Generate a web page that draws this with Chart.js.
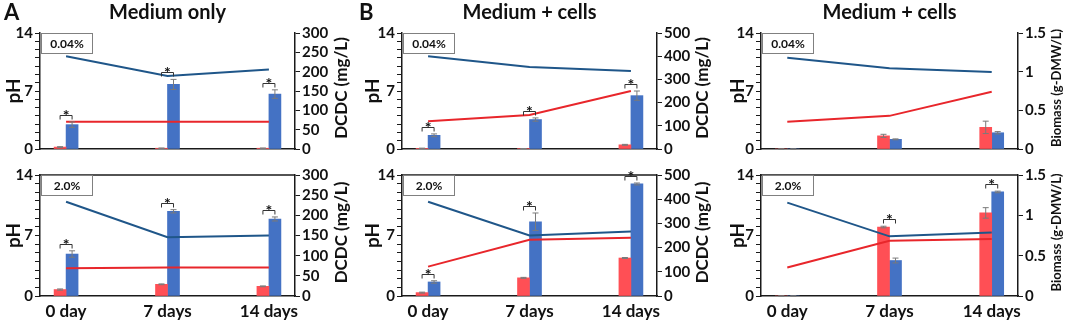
<!DOCTYPE html>
<html>
<head>
<meta charset="utf-8">
<script src="https://cdn.jsdelivr.net/npm/chart.js@4/dist/chart.umd.min.js"></script>
<style>
    body { margin: 0; background: #fff; }
    #figure { position: relative; width: 1065px; height: 322px; overflow: hidden; }
    .panel { position: absolute; }
</style>
</head>
<body>
<div id="figure">
    <div class="panel" id="wrap-a1"><canvas id="chart-a1"></canvas></div>
    <div class="panel" id="wrap-a2"><canvas id="chart-a2"></canvas></div>
    <div class="panel" id="wrap-b1"><canvas id="chart-b1"></canvas></div>
    <div class="panel" id="wrap-b2"><canvas id="chart-b2"></canvas></div>
    <div class="panel" id="wrap-c1"><canvas id="chart-c1"></canvas></div>
    <div class="panel" id="wrap-c2"><canvas id="chart-c2"></canvas></div>
</div>
<script>
// Data ===============================================
const days = [0, 7, 14];
const dayLabels = ['0 day', '7 days', '14 days'];
const phLabels = [0, 7, 14];

// A, medium only, 0.04%  (lines = pH, bars = DCDC mg/L)
const phBlueA1 = [11.2, 8.8, 9.6];
const phRedA1 = [3.3, 3.3, 3.3];
const redBarA1 = [5, 2, 2];
const redErrA1 = [1, 0.5, 0.5];
const blueBarA1 = [63, 167, 142];
const blueErrA1 = [7, 13, 11];
const sigA1 = [true, true, true];

// A, medium only, 2.0%
const phBlueA2 = [10.9, 6.8, 7.0];
const phRedA2 = [3.2, 3.3, 3.3];
const redBarA2 = [16, 29, 24];
const redErrA2 = [1.5, 1, 1];
const blueBarA2 = [104, 210, 191];
const blueErrA2 = [8, 4, 5];
const sigA2 = [true, true, true];

// B, medium + cells, 0.04%
const phBlueB1 = [11.2, 9.9, 9.4];
const phRedB1 = [3.35, 4.1, 7.0];
const redBarB1 = [3, 2, 18];
const redErrB1 = [0, 0, 2];
const blueBarB1 = [59, 127, 230];
const blueErrB1 = [6, 7, 20];
const sigB1 = [true, true, true];

// B, medium + cells, 2.0%
const phBlueB2 = [10.9, 7.0, 7.45];
const phRedB2 = [3.4, 6.5, 6.75];
const redBarB2 = [14, 75, 157];
const redErrB2 = [2, 2, 2];
const blueBarB2 = [58, 307, 463];
const blueErrB2 = [5, 36, 4];
const sigB2 = [true, true, true];

// C, medium + cells, 0.04%  (bars = biomass g-DMW/L)
const phBlueC1 = [11.0, 9.75, 9.3];
const phRedC1 = [3.3, 4.0, 6.9];
const redBarC1 = [0, 0.17, 0.28];
const redErrC1 = [0, 0.02, 0.08];
const blueBarC1 = [0, 0.125, 0.21];
const blueErrC1 = [0, 0.006, 0.015];
const sigC1 = [false, false, false];

// C, medium + cells, 2.0%
const phBlueC2 = [10.8, 6.9, 7.35];
const phRedC2 = [3.3, 6.4, 6.6];
const redBarC2 = [0, 0.855, 1.03];
const redErrC2 = [0, 0.01, 0.065];
const blueBarC2 = [0, 0.44, 1.29];
const blueErrC2 = [0, 0.03, 0.01];
const sigC2 = [false, true, true];

// Styles =============================================
const BLUE_LINE = '#1f5689';
const RED_LINE = '#e8262b';
const BLUE_BAR = '#4472c4';
const RED_BAR = '#ff4f55';
const AXIS = '#1a1a1a';
const TEXT = '#111';
const ERR = '#7a7a7a';
const FONT = 'Lato, "Open Sans", sans-serif';

Chart.defaults.font.family = FONT;
Chart.defaults.color = TEXT;

const row1 = { top: 0, height: 160, padTop: 33, xHeight: 8, showDays: false, frameTop: false, tag: '0.04%' };
const row2 = { top: 160, height: 162, padTop: 15, xHeight: 26, showDays: true, frameTop: true, tag: '2.0%' };
const colA = { left: 0, width: 355, leftWidth: 40, rightWidth: 60, letter: 'A', letterX: 4, title: 'Medium only',
    rightMax: 300, rightStep: 50, rightTitle: 'DCDC (mg/L)', rightFont: 17, rightTitleX: 47 };
const colB = { left: 359, width: 358, leftWidth: 43, rightWidth: 60, letter: 'B', letterX: 0, title: 'Medium + cells',
    rightMax: 500, rightStep: 100, rightTitle: 'DCDC (mg/L)', rightFont: 17, rightTitleX: 46 };
const colC = { left: 724, width: 341, leftWidth: 37, rightWidth: 47, letter: '', letterX: 0, title: 'Medium + cells',
    rightMax: 1.5, rightStep: 0.5, rightTitle: 'Biomass (g-DMW/L)', rightFont: 13, rightTitleX: 39 };

function points(values) {
    return values.map((v, i) => ({ x: days[i], y: v }));
}

class Panel {
    constructor(id, row, col, series) {
        this.cfg = Object.assign({ id: id }, row, col, series);
        if (row !== row1) {
            this.cfg.letter = '';
            this.cfg.title = '';
        }
        const wrap = document.getElementById('wrap-' + id);
        wrap.style.left = this.cfg.left + 'px';
        wrap.style.top = this.cfg.top + 'px';
        wrap.style.width = this.cfg.width + 'px';
        wrap.style.height = this.cfg.height + 'px';
        this.chart = this.createChart();
    }

    createChart() {
        const c = this.cfg;
        const ctx = document.getElementById('chart-' + c.id);
        const tickFont = { size: 15, weight: 'bold' };
        return new Chart(ctx, {
            type: 'bar',
            data: {
                datasets: [
                    { type: 'line', data: points(c.phBlue), yAxisID: 'y', borderColor: BLUE_LINE,
                      borderWidth: 2, pointRadius: 0, tension: 0, order: 0 },
                    { type: 'line', data: points(c.phRed), yAxisID: 'y', borderColor: RED_LINE,
                      borderWidth: 2, pointRadius: 0, tension: 0, order: 0 },
                    { data: points(c.redBar), yAxisID: 'y2', backgroundColor: RED_BAR, barThickness: 12, order: 1 },
                    { data: points(c.blueBar), yAxisID: 'y2', backgroundColor: BLUE_BAR, barThickness: 12, order: 1 },
                ]
            },
            options: {
                responsive: true,
                maintainAspectRatio: false,
                animation: false,
                layout: { padding: { top: c.padTop, left: 0, right: 0, bottom: 0 } },
                plugins: {
                    legend: { display: false },
                    tooltip: { enabled: false },
                },
                scales: {
                    x: {
                        type: 'linear',
                        min: -1.8,
                        max: 15.8,
                        offset: false,
                        afterBuildTicks: s => { s.ticks = days.map(v => ({ value: v })); },
                        afterFit: s => { s.height = c.xHeight; },
                        grid: { display: false, drawTicks: false },
                        border: { color: AXIS, width: 1.5 },
                        ticks: {
                            display: c.showDays,
                            autoSkip: false,
                            maxRotation: 0,
                            padding: 5,
                            font: { size: 17, weight: 'bold' },
                            callback: v => dayLabels[days.indexOf(v)],
                        },
                    },
                    y: {
                        position: 'left',
                        min: 0,
                        max: 14,
                        afterFit: s => { s.width = c.leftWidth; },
                        grid: { drawOnChartArea: false, tickLength: 5, color: AXIS },
                        border: { color: AXIS, width: 1.5 },
                        ticks: {
                            stepSize: 1,
                            autoSkip: false,
                            padding: 2,
                            font: tickFont,
                            callback: v => phLabels.includes(v) ? String(v) : '',
                        },
                        title: { display: true, text: 'pH', font: { size: 19, weight: 'bold' }, padding: { top: 2, bottom: 0 } },
                    },
                    y2: {
                        position: 'right',
                        min: 0,
                        max: c.rightMax,
                        afterFit: s => { s.width = c.rightWidth; },
                        grid: { drawOnChartArea: false, tickLength: 5, color: AXIS },
                        border: { color: AXIS, width: 1.5 },
                        ticks: {
                            stepSize: c.rightStep,
                            autoSkip: false,
                            padding: 2,
                            font: tickFont,
                            callback: v => String(+v.toFixed(2)),
                        },
                    },
                },
            },
            plugins: [this.extrasPlugin()],
        });
    }

    // Barres d'erreur, crochets de significativite, titres et etiquettes
    extrasPlugin() {
        const c = this.cfg;
        return {
            id: 'extras-' + c.id,
            afterDatasetsDraw(chart) {
                const ctx = chart.ctx;
                const area = chart.chartArea;
                const y2 = chart.scales.y2;
                const red = chart.getDatasetMeta(2).data;
                const blue = chart.getDatasetMeta(3).data;

                ctx.save();
                // error bars
                ctx.strokeStyle = ERR;
                ctx.lineWidth = 1;
                [[red, c.redBar, c.redErr], [blue, c.blueBar, c.blueErr]].forEach(([bars, vals, errs]) => {
                    bars.forEach((bar, i) => {
                        const hi = y2.getPixelForValue(vals[i] + errs[i]);
                        const lo = y2.getPixelForValue(Math.max(0, vals[i] - errs[i]));
                        ctx.beginPath();
                        ctx.moveTo(bar.x, hi); ctx.lineTo(bar.x, lo);
                        ctx.moveTo(bar.x - 3, hi); ctx.lineTo(bar.x + 3, hi);
                        ctx.moveTo(bar.x - 3, lo); ctx.lineTo(bar.x + 3, lo);
                        ctx.stroke();
                    });
                });

                // significance brackets
                ctx.strokeStyle = '#333';
                ctx.fillStyle = TEXT;
                ctx.font = 'bold 16px ' + FONT;
                ctx.textAlign = 'center';
                ctx.textBaseline = 'alphabetic';
                c.sig.forEach((on, i) => {
                    if (!on) return;
                    const top = Math.min(y2.getPixelForValue(c.redBar[i] + c.redErr[i]),
                                         y2.getPixelForValue(c.blueBar[i] + c.blueErr[i]));
                    const by = Math.round(top - 7) + 0.5;
                    const x1 = red[i].x, x2 = blue[i].x;
                    ctx.beginPath();
                    ctx.moveTo(x1, by + 4); ctx.lineTo(x1, by); ctx.lineTo(x2, by); ctx.lineTo(x2, by + 4);
                    ctx.stroke();
                    ctx.fillText('*', (x1 + x2) / 2, by + 5);
                });

                // top frame line on the lower row
                if (c.frameTop) {
                    ctx.strokeStyle = AXIS;
                    ctx.lineWidth = 1.5;
                    ctx.beginPath();
                    ctx.moveTo(area.left, area.top); ctx.lineTo(area.right, area.top);
                    ctx.stroke();
                }

                // concentration tag box
                ctx.fillStyle = '#fff';
                ctx.fillRect(area.left + 1, area.top, 51, 20);
                ctx.strokeStyle = '#808080';
                ctx.lineWidth = 1;
                ctx.strokeRect(area.left + 1.5, area.top + 0.5, 51, 20);
                ctx.fillStyle = TEXT;
                ctx.font = 'bold 12px ' + FONT;
                ctx.textBaseline = 'middle';
                ctx.fillText(c.tag, area.left + 27, area.top + 11);

                // right axis title, reading bottom to top
                ctx.save();
                ctx.translate(area.right + c.rightTitleX, (area.top + area.bottom) / 2 - 3);
                ctx.rotate(-Math.PI / 2);
                ctx.font = 'bold ' + c.rightFont + 'px ' + FONT;
                ctx.fillText(c.rightTitle, 0, 0);
                ctx.restore();

                // panel title and letter
                if (c.title) {
                    ctx.font = 'bold 20px ' + FONT;
                    ctx.fillText(c.title, (area.left + area.right) / 2, 13);
                }
                if (c.letter) {
                    ctx.textAlign = 'left';
                    ctx.font = 'bold 22px ' + FONT;
                    ctx.fillText(c.letter, c.letterX, 13);
                }
                ctx.restore();
            }
        };
    }
}

const panelA1 = new Panel('a1', row1, colA, { phBlue: phBlueA1, phRed: phRedA1, redBar: redBarA1, redErr: redErrA1, blueBar: blueBarA1, blueErr: blueErrA1, sig: sigA1 });
const panelA2 = new Panel('a2', row2, colA, { phBlue: phBlueA2, phRed: phRedA2, redBar: redBarA2, redErr: redErrA2, blueBar: blueBarA2, blueErr: blueErrA2, sig: sigA2 });
const panelB1 = new Panel('b1', row1, colB, { phBlue: phBlueB1, phRed: phRedB1, redBar: redBarB1, redErr: redErrB1, blueBar: blueBarB1, blueErr: blueErrB1, sig: sigB1 });
const panelB2 = new Panel('b2', row2, colB, { phBlue: phBlueB2, phRed: phRedB2, redBar: redBarB2, redErr: redErrB2, blueBar: blueBarB2, blueErr: blueErrB2, sig: sigB2 });
const panelC1 = new Panel('c1', row1, colC, { phBlue: phBlueC1, phRed: phRedC1, redBar: redBarC1, redErr: redErrC1, blueBar: blueBarC1, blueErr: blueErrC1, sig: sigC1 });
const panelC2 = new Panel('c2', row2, colC, { phBlue: phBlueC2, phRed: phRedC2, redBar: redBarC2, redErr: redErrC2, blueBar: blueBarC2, blueErr: blueErrC2, sig: sigC2 });
</script>
</body>
</html>
